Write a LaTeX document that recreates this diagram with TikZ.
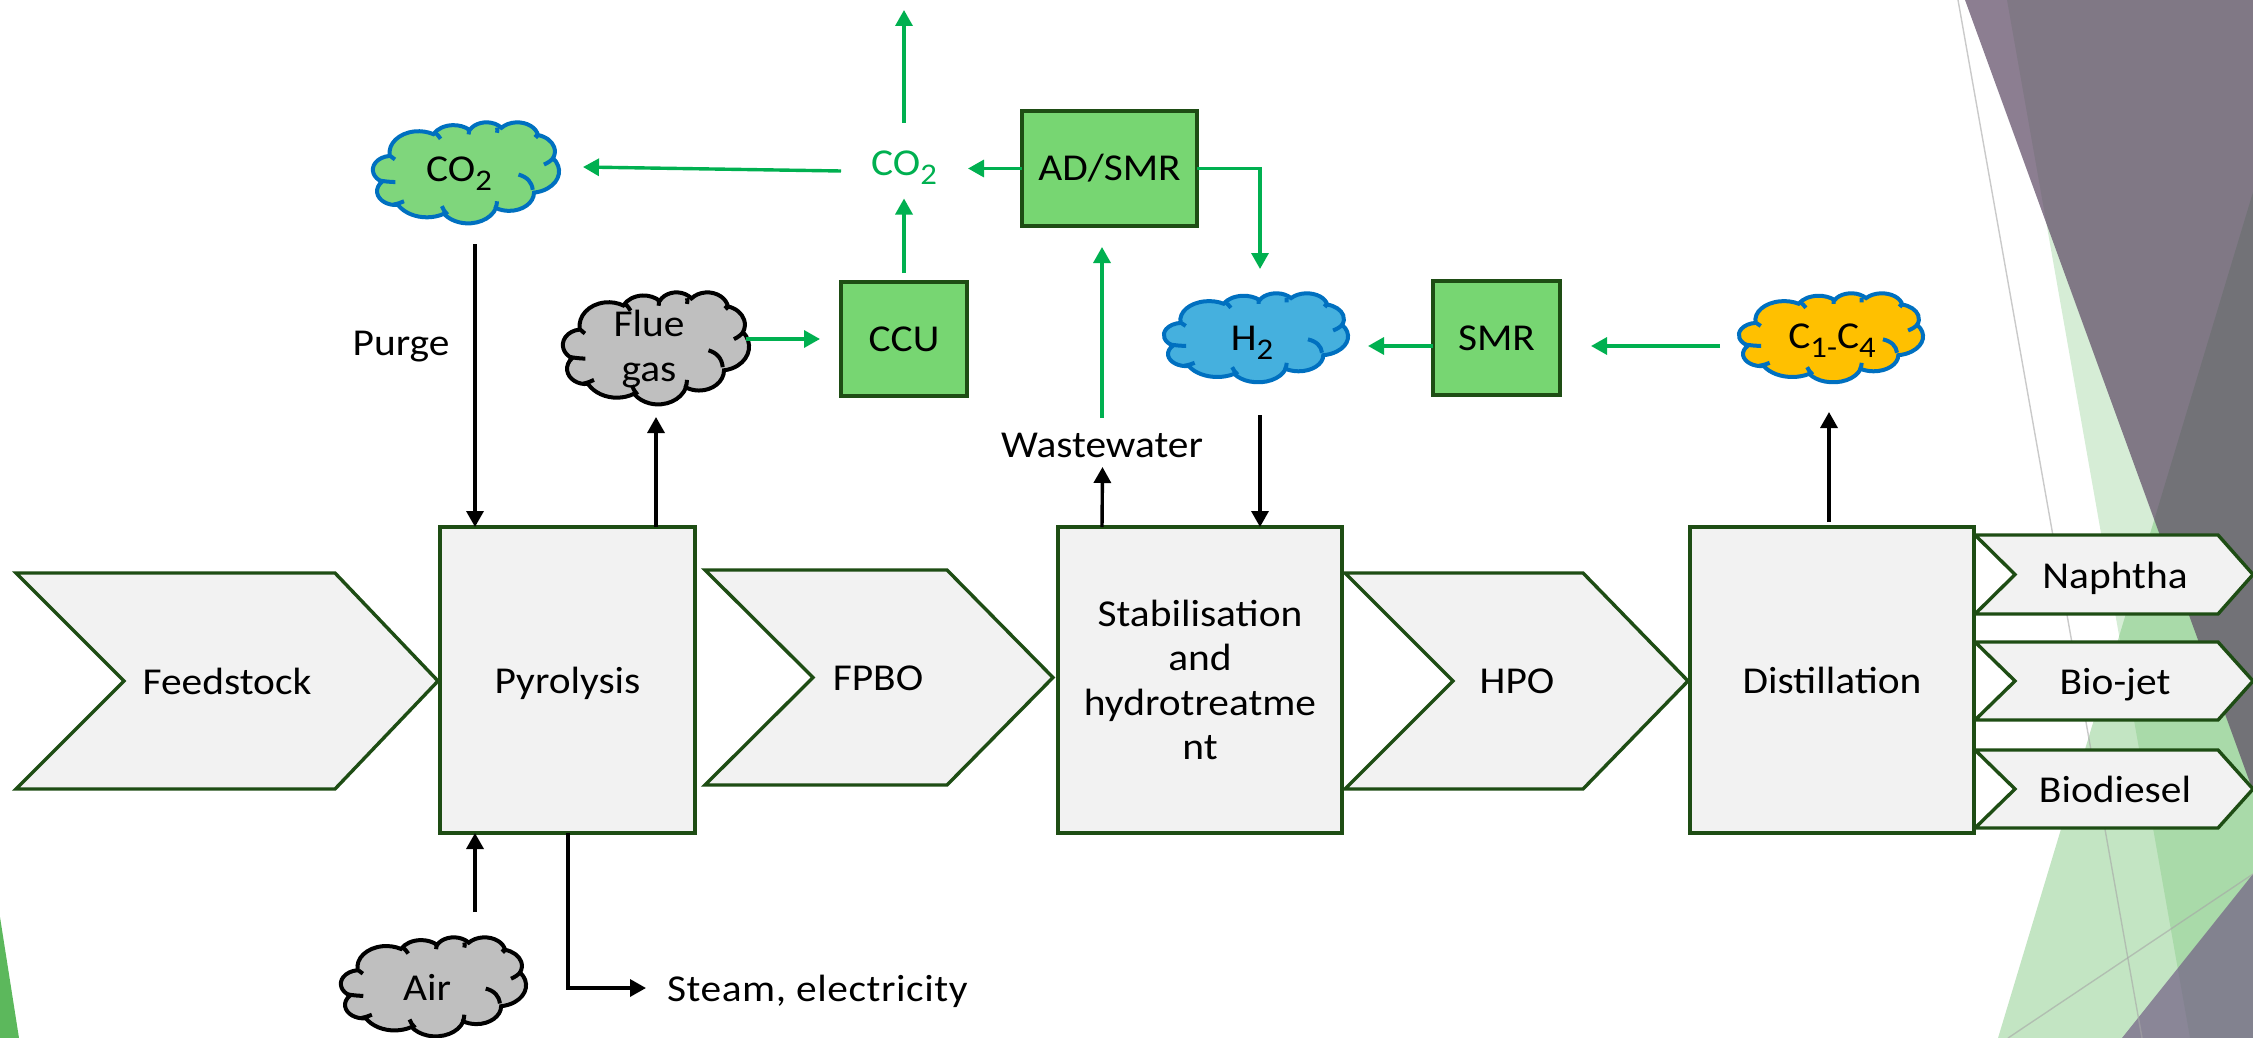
\documentclass[tikz,border=0pt]{standalone}
\usepackage{fontspec}
\setmainfont[FakeStretch=1.09]{Carlito}
\usetikzlibrary{arrows.meta}
\definecolor{dkgreen}{HTML}{1E4D14}
\definecolor{boxgray}{HTML}{F2F2F2}
\definecolor{boxgreen}{HTML}{77D672}
\definecolor{cloudgreen}{HTML}{7FD67C}
\definecolor{cloudgray}{HTML}{BFBFBF}
\definecolor{cloudblue}{HTML}{45B0DE}
\definecolor{cloudyellow}{HTML}{FFC000}
\definecolor{edgeblue}{HTML}{0070C0}
\definecolor{flowgreen}{HTML}{00B050}
\definecolor{bgpurple}{HTML}{5B4763}
\definecolor{bgpurpleb}{HTML}{725E85}
\definecolor{bggreen}{HTML}{5CB85C}
\newcommand\subs[1]{\raisebox{-4.5pt}[0pt][0pt]{\fontsize{15}{15}\selectfont #1}}
\tikzset{
  lbl/.style={inner sep=0pt,outer sep=0pt,font=\fontsize{19}{22.2}\selectfont,align=center,text=black},
  flat/.style={text depth=0pt},
  procbox/.style={lbl,draw=dkgreen,fill=boxgray,line width=1.75pt,anchor=north west},
  greenbox/.style={lbl,draw=dkgreen,fill=boxgreen,line width=1.75pt,anchor=north west},
  chev/.style={draw=dkgreen,fill=boxgray,line width=1.7pt,line join=miter},
  blk/.style={draw=black,line width=1.7pt,-{Triangle[length=8pt,width=8.5pt]}},
  grn/.style={draw=flowgreen,line width=1.7pt,-{Triangle[length=8pt,width=8.5pt]}},
  facetline/.style={draw=black!35,opacity=.6,line width=.7pt},
}
% x0 y0 x1 y1 (reference pixels): a box node
\newcommand\bx[7][]{%
  \pgfmathsetmacro\bw{(#5-#3)*.5}\pgfmathsetmacro\bh{(#6-#4)*.5}%
  \node[#2,minimum width=\bw pt,minimum height=\bh pt,text width=\bw pt-8pt] (#1) at (#3,#4) {#7};}
% notched arrow: x0 notch shoulder x1 y0 y1
\newcommand\chevron[6]{%
  \draw[chev] (#1,#5) -- (#3,#5) -- (#4,{(#5+#6)/2}) -- (#3,#6) -- (#1,#6) -- (#2,{(#5+#6)/2}) -- cycle;}
\newcommand\cloudarc[4]{%
  \pgfmathsetmacro\ca{atan2(#1*sin(#3),#2*cos(#3))}%
  \pgfmathsetmacro\cb{atan2(#1*sin(#3+#4),#2*cos(#3+#4))}%
  \pgfmathsetmacro\cb{\cb+360*(\cb<\ca)}%
  \pgfpatharc{\ca}{\cb}{#1pt and #2pt}}
\newcommand\hook[6]{%
  \pgfpathmoveto{\pgfpoint{#1pt}{#2pt}}%
  \pgfpathquadraticcurveto{\pgfpoint{#3pt}{#4pt}}{\pgfpoint{#5pt}{#6pt}}}
% name x0 y0 x1 y1 fill edge
\newcommand\cloudshape[7]{%
  \pgfmathsetmacro\sx{(#4-#2)*.5/432}\pgfmathsetmacro\sy{-(#5-#3)*.5/432}%
  \begin{scope}[shift={(#2,#3)},xscale=\sx,yscale=\sy]
    \pgfsetlinewidth{2pt}\pgfsetfillcolor{#6}\pgfsetstrokecolor{#7}%
    \pgfpathmoveto{\pgfpoint{39pt}{143.7pt}}%
    \cloudarc{67.53}{91.90}{-190.487}{123.781}%
    \cloudarc{53.33}{72.67}{-144.102}{89.945}%
    \cloudarc{43.65}{59.45}{-145.808}{99.723}%
    \cloudarc{48.57}{65.95}{-130.986}{117.242}%
    \cloudarc{53.33}{72.73}{-78.709}{109.027}%
    \cloudarc{67.75}{92.20}{-46.267}{130.269}%
    \cloudarc{57.85}{78.67}{0.625}{114.033}%
    \cloudarc{67.52}{92.15}{22.452}{115.173}%
    \cloudarc{77.20}{105.43}{66.243}{75.711}%
    \cloudarc{43.60}{59.18}{-274.942}{146.736}%
    \cloudarc{43.45}{59.45}{-246.829}{152.519}%
    \pgfpathclose
    \pgfusepath{fill,stroke}%
    \hook{52}{257}{32}{256}{14}{250}%
    \hook{72}{339}{62}{348}{48}{353}%
    \hook{160}{360}{164}{380}{173}{396}%
    \hook{288}{339}{288}{355}{284}{370}%
    \hook{338}{225}{368}{240}{371}{290}%
    \hook{397}{182}{412}{170}{419}{153}%
    \hook{376}{53}{380}{60}{384}{67}%
    \hook{288}{24}{290}{35}{288}{46}%
    \hook{222}{31}{224}{42}{222}{53}%
    \hook{145}{46}{152}{58}{157}{72}%
    \hook{41}{146}{46}{154}{51}{160}%
    \pgfusepath{stroke}%
  \end{scope}
  \pgfmathsetmacro\cw{(#4-#2)*.5}\pgfmathsetmacro\ch{(#5-#3)*.5}%
  \node[inner sep=0pt,outer sep=0pt,minimum width=\cw pt,minimum height=\ch pt] (#1) at ({(#2+#4)/2},{(#3+#5)/2}) {};}
\begin{document}
\begin{tikzpicture}[x=.5pt,y=-.5pt]
\useasboundingbox (0,0) rectangle (2253,1038);
% background facets
\fill[bggreen,opacity=.25] (2007,0) -- (2190,1038) -- (2253,1038) -- (2253,0) -- cycle;
\fill[bggreen,opacity=.37] (1998,1038) -- (2253,192) -- (2253,1038) -- cycle;
\fill[bgpurple,opacity=.7] (1965,0) -- (2253,0) -- (2253,791) -- cycle;
\fill[bgpurpleb,opacity=.7] (2122,1038) -- (2253,874) -- (2253,1038) -- cycle;
\draw[facetline] (1958,0) -- (2142,1038);
\draw[facetline] (2008,1038) -- (2253,874);
\fill[bggreen] (0,917) -- (19,1038) -- (0,1038) -- cycle;
% notched arrows
\chevron{16}{124}{335}{438}{573}{789}
\chevron{705}{813}{947}{1053}{570}{785}
\chevron{1345}{1453}{1583}{1688}{573}{789}
\chevron{1975}{2015}{2218}{2253}{535}{614}
\chevron{1975}{2015}{2218}{2253}{642}{720}
\chevron{1975}{2015}{2218}{2253}{750}{828}
\node[lbl] (feed) at (227,681) {Feedstock};
\node[lbl] (fpbo) at (878,678) {FPBO};
\node[lbl] (hpo) at (1517,681) {HPO};
\node[lbl,flat] (naph) at (2115,575) {Naphtha};
\node[lbl,flat] (jet) at (2115,681) {Bio-jet};
\node[lbl] (dies) at (2115,789) {Biodiesel};
% process boxes
\bx[pyro]{procbox,flat}{440}{527}{695}{833}{Pyrolysis}
\bx[stab]{procbox}{1058}{527}{1342}{833}{Stabilisation\\and\\hydrotreatme\\nt}
\bx[dist]{procbox}{1690}{527}{1974}{833}{Distillation}
\bx[ccu]{greenbox}{841}{282}{967}{396}{CCU}
\bx[ad]{greenbox}{1022}{111}{1197}{226}{AD/SMR}
\bx[smr]{greenbox}{1433}{281}{1560}{395}{SMR}
% clouds
\cloudshape{co2c}{373}{122}{559}{223}{cloudgreen}{edgeblue}
\cloudshape{flue}{563}{292}{749}{404}{cloudgray}{black}
\cloudshape{hyd}{1164}{293}{1348}{382}{cloudblue}{edgeblue}
\cloudshape{cfour}{1739}{293}{1923}{382}{cloudyellow}{edgeblue}
\cloudshape{air}{341}{937}{526}{1036}{cloudgray}{black}
\node[lbl] (co2ctxt) at (459,169) {CO\subs{2}};
\node[lbl] (fluetxt) at (649,349) {Flue\\gas};
\node[lbl] (hydtxt) at (1252,338) {H\subs{2}};
\node[lbl] (cfourtxt) at (1832,336) {C\subs{1-}C\subs{4}};
\node[lbl] (airtxt) at (427,987) {Air};
% free labels
\node[lbl,flat] (purge) at (401,343) {Purge};
\node[lbl] (ww) at (1102,445) {Wastewater};
\node[lbl,text=flowgreen] (co2t) at (904,163) {CO\subs{2}};
\node[lbl,anchor=west,flat] (steam) at (667,988) {\addfontfeature{LetterSpace=1.5}Steam, electricity};
\coordinate (topend) at (904,10);
% black connectors
\draw[blk] ([xshift=4.5pt,yshift=-10.5pt]co2c.south) -- ([xshift=17.5pt]pyro.north west);
\draw[blk] ([xshift=108pt]pyro.north west) -- ([yshift=-6.5pt]flue.south);
\draw[blk] ([xshift=20.75pt,yshift=12.5pt]air.north) -- ([xshift=17.5pt]pyro.south west);
\draw[blk] ([xshift=64pt]pyro.south west) |- ([xshift=-10.5pt]steam.west);
\draw[blk] ([xshift=22pt]stab.north west) -- ([xshift=.25pt,yshift=-11pt]ww.center);
\draw[blk] ([xshift=2pt,yshift=-16.5pt]hyd.south) -- ([xshift=-41pt]stab.north east);
\draw[blk] ([xshift=-1.5pt,yshift=2.5pt]dist.north) -- ([xshift=-1pt,yshift=-15pt]cfour.south);
% green connectors
\draw[grn] ([yshift=13.5pt]ww.center) -- ([xshift=-3.75pt,yshift=-10.5pt]ad.south);
\draw[grn] (ad.east) -| ([xshift=2pt,yshift=12pt]hyd.north);
\draw[grn] (ad.west) -- ([xshift=32pt]co2t.center |- ad.west);
\draw[grn] ([xshift=-31.5pt,yshift=-4pt]co2t.center) -- ([xshift=12pt,yshift=2.75pt]co2c.east);
\draw[grn] ([yshift=4.5pt]ccu.north) -- ([yshift=-17.75pt]co2t.center);
\draw[grn] ([yshift=20pt]co2t.center) -- (topend);
\draw[grn] ([xshift=-1.5pt]flue.east |- ccu.west) -- ([xshift=-10.5pt]ccu.west);
\draw[grn] ([xshift=-9.5pt,yshift=-4.25pt]cfour.west) -- ([xshift=15.5pt,yshift=-4pt]smr.east);
\draw[grn] ([yshift=-4pt]smr.west) -- ([xshift=10pt,yshift=-4.25pt]hyd.east);
\end{tikzpicture}
\end{document}
